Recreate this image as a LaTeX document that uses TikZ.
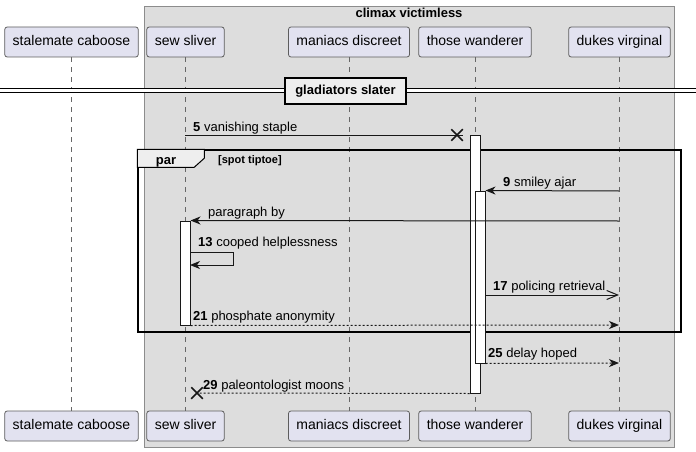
\documentclass[tikz,border=0pt]{standalone}
\usepackage{fontspec}
\setmainfont{Liberation Sans}
\usetikzlibrary{arrows.meta, shapes.misc}
\definecolor{partfill}{HTML}{E2E2F0}
\definecolor{partline}{HTML}{181818}
\definecolor{boxfill}{HTML}{DDDDDD}
\definecolor{tabfill}{HTML}{EEEEEE}
\tikzstyle{participant} = [rectangle, rounded corners=2.5pt, minimum height=30pt, inner xsep=8pt, text height=10pt, text depth=3pt, text centered, draw=partline!70, line width=0.8pt, fill=partfill, font=\fontsize{14}{16}\selectfont]
\tikzstyle{lifeline} = [draw=black!60, line width=0.8pt, dash pattern=on 5pt off 5pt]
\tikzstyle{activation} = [rectangle, minimum width=10pt, inner sep=0pt, draw=partline, line width=1pt, fill=white]
\tikzstyle{msg} = [draw=partline, line width=1pt, -{Stealth[length=10pt,width=8pt,inset=3pt]}]
\tikzstyle{reply} = [msg, dash pattern=on 2pt off 2pt]
\tikzstyle{openmsg} = [draw=partline, line width=1pt, -{Straight Barb[length=11pt,width=9pt]}]
\tikzstyle{lbl} = [anchor=base west, inner sep=0pt, font=\fontsize{13}{15}\selectfont]
\tikzstyle{killed} = [cross out, draw=partline, line width=1.5pt, minimum size=10pt, inner sep=0pt]
\tikzstyle{divider} = [rectangle, minimum width=121pt, minimum height=26pt, text centered, draw=black, line width=1.5pt, fill=tabfill, font=\bfseries\fontsize{13}{15}\selectfont]

\begin{document}
\begin{tikzpicture}[x=1pt, y=-1pt]
	\useasboundingbox (0,0) rectangle (696,452);
	% box
	\node (grp) [rectangle, draw=black!45, line width=0.8pt, fill=boxfill, minimum width=530pt, minimum height=441pt, inner sep=0pt] at (409,226.5) {};
	\node (grptitle) [anchor=base, inner sep=0pt, font=\bfseries\fontsize{13}{15}\selectfont] at (409,18) {climax victimless};
	
	% participants
	\node (scTop) [participant] at (71.5,42) {stalemate caboose};
	\node (ssTop) [participant] at (185.5,42) {sew sliver};
	\node (mdTop) [participant] at (349,42) {maniacs discreet};
	\node (twTop) [participant] at (475,42) {those wanderer};
	\node (dvTop) [participant] at (619.5,42) {dukes virginal};
	\node (scBot) [participant] at (71.5,426) {stalemate caboose};
	\node (ssBot) [participant] at (185.5,426) {sew sliver};
	\node (mdBot) [participant] at (349,426) {maniacs discreet};
	\node (twBot) [participant] at (475,426) {those wanderer};
	\node (dvBot) [participant] at (619.5,426) {dukes virginal};
	
	\draw [lifeline] (scTop) -- (scBot);
	\draw [lifeline] (ssTop) -- (ssBot);
	\draw [lifeline] (mdTop) -- (mdBot);
	\draw [lifeline] (twTop) -- (twBot);
	\draw [lifeline] (dvTop) -- (dvBot);
	
	% divider
	\coordinate (divL) at (0,90);
	\coordinate (divR) at (696,90);
	\draw [black, line width=1pt, double distance=3pt] (divL) -- (divR);
	\node (div) [divider] at (345.5,91) {gladiators slater};
	
	% par frame
	\node (par) [rectangle, draw=black, line width=1.5pt, minimum width=543pt, minimum height=182pt, inner sep=0pt] at (409.5,241) {};
	\draw [black, line width=1pt, fill=tabfill] (par.north west) -- ++(67,0) -- ++(0,9) -- ++(-10,9) -- ++(-57,0) -- cycle;
	\node (partab) [anchor=base, inner sep=0pt, font=\bfseries\fontsize{13}{15}\selectfont] at (166,164) {par};
	\node (parcond) [anchor=base west, inner sep=0pt, font=\bfseries\fontsize{11}{13}\selectfont] at (218,163) {[spot tiptoe]};
	
	% activations
	\node (actW1) [activation, minimum height=258pt] at (475,264) {};
	\node (actW2) [activation, minimum height=172pt] at (480,277) {};
	\node (actS) [activation, minimum height=104pt] at (185,273) {};
	
	% messages
	\coordinate (ss5) at (185,135);
	\node (x5) [killed] at (457,135) {};
	\draw [draw=partline, line width=1pt] (ss5) -- (x5.east);
	\node (l5) [lbl] at (193,131) {\textbf{5} vanishing staple};
	
	\coordinate (dv9) at (619,191);
	\draw [msg] (dv9) -- (actW2.north east);
	\node (l9) [lbl] at (503,186) {\textbf{9} smiley ajar};
	
	\coordinate (dv11) at (619,221);
	\draw [msg] (dv11) -- (actS.north east);
	\node (l11) [lbl] at (208,216.5) {paragraph by};
	
	\coordinate (s13a) at (190,252);
	\coordinate (s13b) at (233,252);
	\coordinate (s13c) at (233,265);
	\coordinate (s13d) at (190,265);
	\draw [msg] (s13a) -- (s13b) -- (s13c) -- (s13d);
	\node (l13) [lbl] at (198,246) {\textbf{13} cooped helplessness};
	
	\coordinate (tw17) at (485,295);
	\coordinate (dv17) at (619,295);
	\draw [openmsg] (tw17) -- (dv17);
	\node (l17) [lbl] at (493,290.5) {\textbf{17} policing retrieval};
	
	\coordinate (dv21) at (619,325);
	\draw [reply] (actS.south east) -- (dv21);
	\node (l21) [lbl] at (193,320.5) {\textbf{21} phosphate anonymity};
	
	\coordinate (dv25) at (619,363);
	\draw [reply] (actW2.south east) -- (dv25);
	\node (l25) [lbl] at (488,357.5) {\textbf{25} delay hoped};
	
	\node (x29) [killed] at (197,393) {};
	\draw [draw=partline, line width=1pt, dash pattern=on 2pt off 2pt] (actW1.south west) -- (x29.center);
	\node (l29) [lbl] at (203,389) {\textbf{29} paleontologist moons};
\end{tikzpicture}
\end{document}
